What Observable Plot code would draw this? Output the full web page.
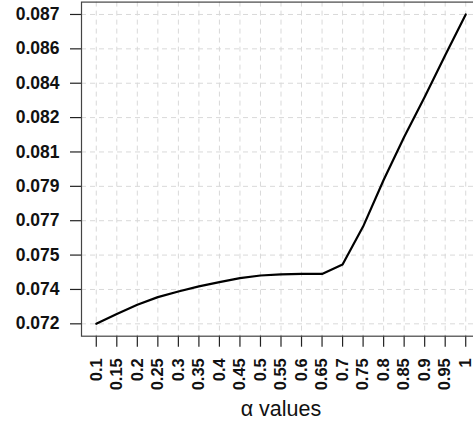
<!DOCTYPE html>
<html>
<head>
<meta charset="utf-8">
<script src="https://cdn.jsdelivr.net/npm/d3@7"></script>
<script src="https://cdn.jsdelivr.net/npm/@observablehq/plot@0.6"></script>
<style>
  html, body { margin: 0; padding: 0; background: white; }
  #chart svg { display: block; overflow: visible; }
</style>
</head>
<body>
<div id="chart"></div>
<script>
const alphas = [0.1, 0.15, 0.2, 0.25, 0.3, 0.35, 0.4, 0.45, 0.5, 0.55, 0.6, 0.65, 0.7, 0.75, 0.8, 0.85, 0.9, 0.95, 1];
const values = [0.07205, 0.07254, 0.07299, 0.07337, 0.07365, 0.07390, 0.07411, 0.07431, 0.07444, 0.07450, 0.07452, 0.07452, 0.07498, 0.07686, 0.07916, 0.08129, 0.08327, 0.08533, 0.08735];
const xTickLabels = ["0.1","0.15","0.2","0.25","0.3","0.35","0.4","0.45","0.5","0.55","0.6","0.65","0.7","0.75","0.8","0.85","0.9","0.95","1"];
const yTickLabels = ["0.072","0.074","0.075","0.077","0.079","0.081","0.082","0.084","0.086","0.087"];
const xLabel = "\u03b1 values";

const data = alphas.map((a, i) => ({alpha: a, value: values[i]}));

const [ylo, yhi] = d3.extent(values);
const yTicks = d3.range(yTickLabels.length).map(i => ylo + i * (yhi - ylo) / (yTickLabels.length - 1));
const [xlo, xhi] = d3.extent(alphas);
const padX = (xhi - xlo) * 0.04, padY = (yhi - ylo) * 0.04;

const font = "'Liberation Sans', Arial, Helvetica, sans-serif";

const chart = Plot.plot({
  width: 473,
  height: 423,
  marginLeft: 81,
  marginRight: -7,
  marginTop: 1.6,
  marginBottom: 87.3,
  style: {fontFamily: font, background: "white", overflow: "visible"},
  x: {domain: [xlo - padX, xhi + padX]},
  y: {domain: [ylo - padY, yhi + padY]},
  marks: [
    Plot.gridX(alphas, {stroke: "#d9d9d9", strokeOpacity: 1, strokeDasharray: "5,4", strokeWidth: 1}),
    Plot.gridY(yTicks, {stroke: "#d9d9d9", strokeOpacity: 1, strokeDasharray: "5,4", strokeWidth: 1}),
    Plot.axisY(yTicks, {
      tickSize: 11, tickPadding: 11, stroke: "#222", strokeWidth: 1.2,
      tickFormat: (d, i) => yTickLabels[i],
      fontSize: 17.5, fontWeight: "bold", fill: "#111", label: null
    }),
    Plot.axisX(alphas, {
      tickSize: 11, tickPadding: 11, stroke: "#222", strokeWidth: 1.2,
      tickRotate: -90,
      tickFormat: (d, i) => xTickLabels[i],
      fontSize: 16.5, fontWeight: "bold", fill: "#111", label: null
    }),
    Plot.frame({stroke: "#444", strokeWidth: 1.2}),
    Plot.line(data, {x: "alpha", y: "value", stroke: "black", strokeWidth: 2.2}),
    Plot.text([xLabel], {frameAnchor: "bottom", dy: 73, fontSize: 21.5, fill: "#111", lineAnchor: "middle"})
  ]
});
document.getElementById("chart").appendChild(chart);
</script>
</body>
</html>
